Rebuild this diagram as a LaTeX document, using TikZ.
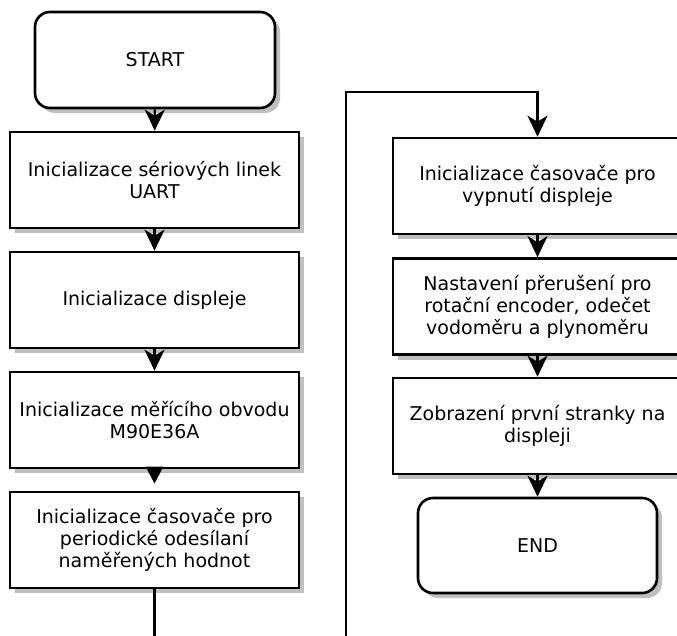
\documentclass[tikz,border=0pt]{standalone}
\usepackage{fontspec}
\setmainfont{DejaVu Sans}
\usetikzlibrary{arrows.meta,shadows}
\begin{document}
\begin{tikzpicture}[x=1pt,y=-1pt,
  box/.style={draw, line width=2.6pt, fill=white, minimum width=289pt, minimum height=96pt,
    align=center, font=\fontsize{19}{22}\selectfont, inner sep=0pt,
    drop shadow={shadow xshift=5pt, shadow yshift=-5pt, fill=black!25, opacity=1}},
  term/.style={box, rounded corners=15pt, minimum width=240pt},
  arr/.style={line width=2.4pt, -{Stealth[length=21pt,width=20pt,inset=6pt]}},
  conn/.style={line width=2.4pt}]
\useasboundingbox (0,0) rectangle (677,635);
\clip (0,0) rectangle (677,635);

% left column
\node[term] (start) at (155,60) {START};
\node[box] (uart) at (154.5,180) {Inicializace sériových linek\\UART};
\node[box] (disp) at (154.5,300) {Inicializace displeje};
\node[box] (meas) at (154.5,420) {Inicializace měřícího obvodu\\M90E36A};
\node[box] (tim) at (154.5,540) {Inicializace časovače pro\\periodické odesílaní\\naměřených hodnot};

% right column
\node[box] (tdisp) at (537.5,186) {Inicializace časovače pro\\vypnutí displeje};
\node[box] (irq) at (537.5,306.5) {Nastavení přerušení pro\\rotační encoder, odečet\\vodoměru a plynoměru};
\node[box] (show) at (537.5,426) {Zobrazení první stranky na\\displeji};
\node[term, minimum width=239pt, minimum height=95pt] (end) at (537.5,545.5) {END};

% off-page connector ends
\coordinate (offL) at (154.5,650);
\coordinate (offR) at (346,650);
\coordinate (bend) at (346,92);

% connectors
\draw[arr] (start) -- (uart);
\draw[arr] (uart) -- (disp);
\draw[arr] (disp) -- (meas);
\draw[conn, -{Triangle[length=17pt,width=17pt]}, shorten >=7pt] (meas) -- (tim);
\draw[conn] (tim) -- (offL);
\draw[arr] (offR) -- (bend) -| (tdisp.north);
\draw[arr] (tdisp) -- (irq);
\draw[arr] (irq) -- (show);
\draw[arr] (show) -- (end);
\end{tikzpicture}
\end{document}
